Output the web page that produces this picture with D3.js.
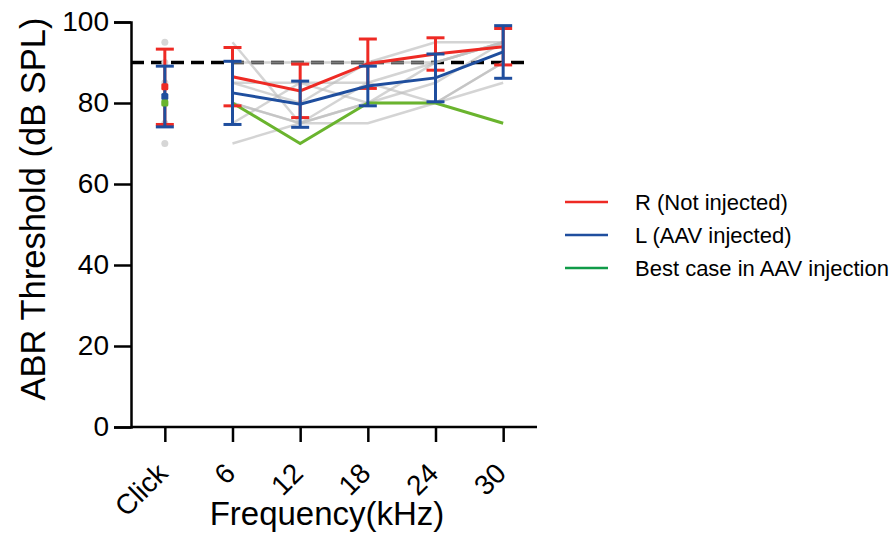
<!DOCTYPE html>
<html>
<head>
<meta charset="utf-8">
<script src="https://cdn.jsdelivr.net/npm/d3@7"></script>
<style>
	body { margin: 0; background: #fff; }
	text { font-family: Arial, "Liberation Sans", sans-serif; }
</style>
</head>
<body>
<div id="chart"></div>
<script>
(function () {

	'use strict';

	var categories = ['Click', '6', '12', '18', '24', '30'];
	var yTicks = [0, 20, 40, 60, 80, 100];

	// R ear (not injected), mean and SD
	var rMean = [84, 86.5, 83, 89.7, 92.1, 93.9];
	var rErr = [9.3, 7.2, 6.6, 6.1, 4.0, 4.5];

	// L ear (AAV injected), mean and SD
	var lMean = [81.6, 82.5, 79.7, 84.2, 86.2, 92.6];
	var lErr = [7.5, 7.8, 5.7, 4.9, 5.9, 6.5];

	var bestCase = [80, 80, 70, 80, 80, 75];

	// individual animals at click
	var clickDots = [95, 90, 85, 80, 75, 70];

	// individual animals, 6 to 30 kHz
	var individuals = [
		[95, 75, 85, 90, 95],
		[90, 90, 90, 90, 95],
		[85, 80, 90, 95, 95],
		[80, 75, 75, 80, 85],
		[75, 85, 85, 80, 90],
		[70, 75, 80, 85, 95],
		[80, 75, 80, 90, 95],
		[85, 85, 80, 80, 90]
	];

	var legendItems = ['R (Not injected)', 'L (AAV injected)', 'Best case in AAV injection'];
	var legendColors = ['#ee2a24', '#1f4e9e', '#109b48'];

	var red = '#ee2a24';
	var blue = '#1f4e9e';
	var green = '#6ab42e';
	var gray = '#bdbdbd';

	var svg = d3.select('#chart')
		.append('svg')
		.attr('width', 896)
		.attr('height', 543);

	var x = d3.scalePoint()
		.domain(categories)
		.range([131, 537])
		.padding(0.5);

	var y = d3.scaleLinear()
		.domain([0, 100])
		.range([427, 22]);

	var freqs = categories.slice(1);

	var line = d3.line()
		.x(function (d) { return x(d.c); })
		.y(function (d) { return y(d.v); });

	function toPoints(values, cats) {
		return values.map(function (v, i) {
			return { c: cats[i], v: v };
		});
	}

	// 90 dB reference
	svg.append('line')
		.attr('x1', 131)
		.attr('x2', 526)
		.attr('y1', y(90))
		.attr('y2', y(90))
		.attr('stroke', '#000')
		.attr('stroke-width', 3.5)
		.style('stroke-dasharray', '13, 7');

	// individual lines
	svg.selectAll('.indiv')
		.data(individuals)
		.enter()
		.append('path')
		.attr('class', 'indiv')
		.attr('d', function (d) { return line(toPoints(d, freqs)); })
		.attr('fill', 'none')
		.attr('stroke', gray)
		.attr('stroke-opacity', 0.65)
		.attr('stroke-width', 2.5);

	svg.selectAll('.clickdot')
		.data(clickDots)
		.enter()
		.append('circle')
		.attr('cx', x('Click'))
		.attr('cy', function (d) { return y(d); })
		.attr('r', 3.5)
		.attr('fill', '#d6d6d6');

	// best case
	svg.append('path')
		.attr('d', line(toPoints(bestCase.slice(1), freqs)))
		.attr('fill', 'none')
		.attr('stroke', green)
		.attr('stroke-width', 3);

	function drawGroup(mean, err, color) {
		var g = svg.append('g');

		g.append('path')
			.attr('d', line(toPoints(mean.slice(1), freqs)))
			.attr('fill', 'none')
			.attr('stroke', color)
			.attr('stroke-width', 3);

		mean.forEach(function (m, i) {
			var cx = x(categories[i]);
			g.append('line')
				.attr('x1', cx).attr('x2', cx)
				.attr('y1', y(m + err[i])).attr('y2', y(m - err[i]))
				.attr('stroke', color)
				.attr('stroke-width', 3);
			[m + err[i], m - err[i]].forEach(function (v) {
				g.append('line')
					.attr('x1', cx - 9).attr('x2', cx + 9)
					.attr('y1', y(v)).attr('y2', y(v))
					.attr('stroke', color)
					.attr('stroke-width', 3);
			});
		});
		return g;
	}

	drawGroup(rMean, rErr, red);
	drawGroup(lMean, lErr, blue);

	// click means
	[[rMean[0], red], [lMean[0], blue], [bestCase[0], green]].forEach(function (p) {
		svg.append('rect')
			.attr('x', x('Click') - 3.5)
			.attr('y', y(p[0]) - 3.5)
			.attr('width', 7)
			.attr('height', 7)
			.attr('rx', 1.5)
			.attr('fill', p[1]);
	});

	// axes
	var yAxis = svg.append('g')
		.attr('transform', 'translate(131,0)')
		.call(d3.axisLeft(y).tickValues(yTicks).tickSize(17).tickPadding(5));

	var xAxis = svg.append('g')
		.attr('transform', 'translate(0,427)')
		.call(d3.axisBottom(x).tickSize(15).tickSizeOuter(0));

	[yAxis, xAxis].forEach(function (a) {
		a.select('.domain').attr('stroke-width', 2.5);
		a.selectAll('.tick line').attr('stroke-width', 2.5);
		a.selectAll('text')
			.style('font-size', '28px')
			.style('font-family', 'Arial, "Liberation Sans", sans-serif')
			.attr('fill', '#000');
	});

	xAxis.select('.domain').attr('d', 'M131,0H537');

	xAxis.selectAll('.tick text')
		.attr('text-anchor', 'end')
		.attr('y', 0)
		.attr('dy', 0)
		.attr('transform', 'translate(4,48) rotate(-45)');

	// axis titles
	svg.append('text')
		.attr('transform', 'translate(45,209) rotate(-90)')
		.attr('text-anchor', 'middle')
		.style('font-size', '34.5px')
		.text('ABR Threshold (dB SPL)');

	svg.append('text')
		.attr('x', 327)
		.attr('y', 525)
		.attr('text-anchor', 'middle')
		.style('font-size', '33px')
		.text('Frequency(kHz)');

	// legend
	var legend = svg.selectAll('.legend')
		.data(legendItems)
		.enter()
		.append('g')
		.attr('class', 'legend')
		.attr('transform', function (d, i) { return 'translate(565,' + (202 + i * 33) + ')'; });

	legend.append('line')
		.attr('x1', 0).attr('x2', 43)
		.attr('stroke', function (d, i) { return legendColors[i]; })
		.attr('stroke-width', 2.5);

	legend.append('text')
		.attr('x', 70)
		.attr('dy', '0.35em')
		.style('font-size', '22px')
		.text(function (d) { return d; });

})();
</script>
</body>
</html>
